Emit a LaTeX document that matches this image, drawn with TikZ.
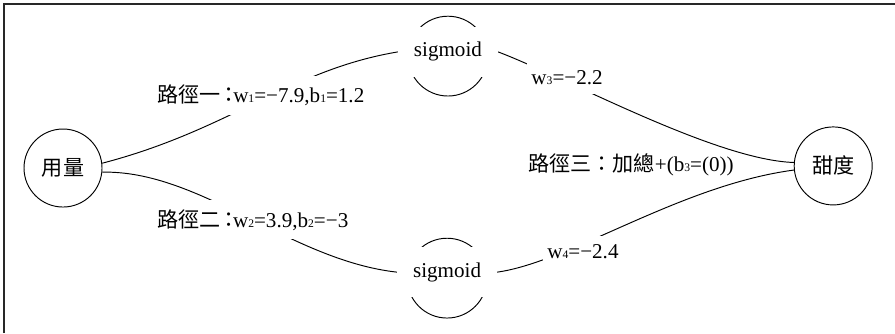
\documentclass[tikz,border=0pt]{standalone}
\usepackage{fontspec}
\setmainfont{Liberation Serif}
\newfontfamily\cjk{Noto Sans CJK TC}
\usetikzlibrary{backgrounds}
\newcommand{\idx}[1]{{\fontsize{11}{11}\selectfont #1}}
\newcommand{\shortcolon}{\kern-0.12em：\kern-0.3em}
\begin{document}
\begin{tikzpicture}[
    every node/.style={font=\fontsize{20}{24}\selectfont},
    unit/.style={draw, circle, minimum size=2.6cm, line width=0.9pt},
    sig/.style={fill=white, minimum width=3.33cm, minimum height=1.65cm},
    lbl/.style={fill=white, inner xsep=0.15cm, inner ysep=0.3cm},
    link/.style={line width=0.9pt}
]
    \definecolor{cadre}{RGB}{40, 40, 40}
    \useasboundingbox (0,0) rectangle (29.83,-11.1);
    \draw[cadre, line width=1.5pt] (0.13,-11.1) -- (0.13,-0.13) -- (29.83,-0.13);
    \node[unit] (dose) at (2.1,-5.6) {\cjk 用量};
    \node[unit] (sweet) at (27.77,-5.53) {\cjk 甜度};
    \node[sig] (sigA) at (14.93,-1.73) {sigmoid};
    \node[sig] (sigB) at (14.9,-9.07) {sigmoid};
    \node[lbl] (pathA) at (8.7,-3.17) {{\cjk 路徑一\shortcolon}w\idx{1}=−7.9,b\idx{1}=1.2};
    \node[lbl] (pathB) at (8.43,-7.33) {{\cjk 路徑二\shortcolon}w\idx{2}=3.9,b\idx{2}=−3};
    \node[lbl] (wC) at (18.9,-2.6) {w\idx{3}=−2.2};
    \node[lbl] (wD) at (19.43,-8.4) {w\idx{4}=−2.4};
    \node (pathC) at (21.03,-5.5) {{\cjk 路徑三：加總}+(b\idx{3}=(0))};
    \begin{scope}[on background layer]
        \draw[link] ([yshift=-0.14cm]sigA.center) circle[radius=1.33cm];
        \draw[link] ([yshift=-0.2cm]sigB.center) circle[radius=1.33cm];
        \draw[link] (dose.7) .. controls (7.67,-4.33) and (9.67,-2.33) .. (sigA.west);
        \draw[link] (dose.-6) .. controls (6.67,-5.67) and (9.67,-8.67) .. (sigB.west);
        \draw[link] (sigA.east) .. controls (18.83,-2.57) and (23.83,-5.33) .. (sweet.175);
        \draw[link] (sigB.east) .. controls (19,-8.73) and (22.67,-6.17) .. (sweet.186);
    \end{scope}
\end{tikzpicture}
\end{document}
